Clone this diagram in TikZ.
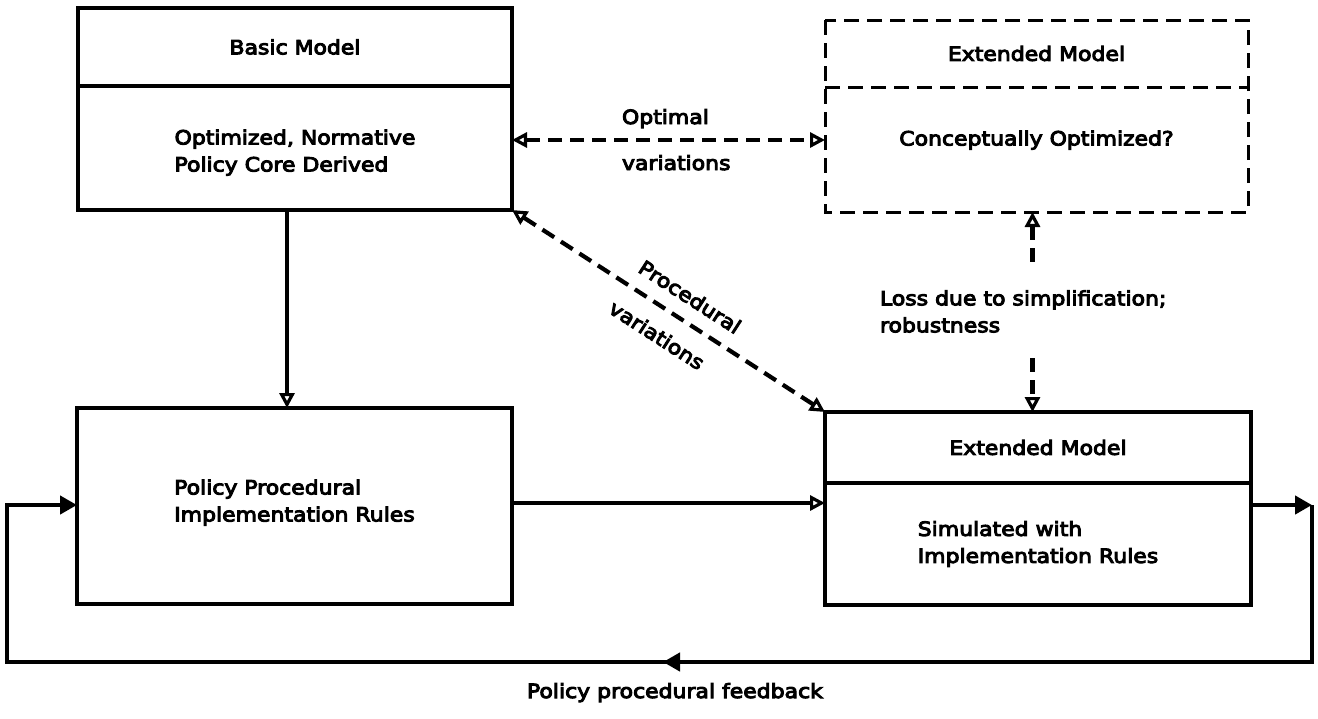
\documentclass[tikz,border=0pt]{standalone}
\usepackage{fontspec}
\setmainfont{DejaVu Sans}[FakeStretch=1.12, FakeBold=5]
\usetikzlibrary{arrows.meta,decorations.markings,calc}
\begin{document}
\begin{tikzpicture}[x=1pt,y=-1pt,
  every node/.style={font=\fontsize{19.6}{27}\selectfont, inner sep=0pt, outer sep=0pt},
  box/.style={draw, line width=3.2pt},
  dline/.style={draw, line width=3pt, dash pattern=on 15pt off 8pt},
  arr/.style={line width=3.2pt, -{Triangle[open, length=15pt, width=15pt, line width=3.2pt]}},
  darr/.style={line width=4.2pt, dash pattern=on 14pt off 8pt,
    {Triangle[open, length=15pt, width=15pt, line width=3.2pt]}-{Triangle[open, length=15pt, width=15pt, line width=3.2pt]}},
  fbline/.style={line width=4.6pt}
]
\useasboundingbox (0,0) rectangle (1318,718);

% top-left: basic model
\node[box, minimum width=434pt, minimum height=78pt] (bmh) at (295,47) {Basic Model};
\node[box, minimum width=434pt, minimum height=124pt, align=left] (bmb) at (295,148) {\rule{0pt}{24pt}Optimized, Normative\\Policy Core Derived};

% top-right: extended model (dashed)
\node[minimum width=423pt, minimum height=67pt] (ech) at (1036.5,53.5) {Extended Model};
\node[minimum width=423pt, minimum height=125pt, text depth=23pt] (ecb) at (1036.5,149.5) {Conceptually Optimized?};
\draw[dline] (ech.north west) rectangle (ecb.south east);
\draw[dline] (ech.south west) -- (ech.south east);

% bottom-left: procedural rules
\node[box, minimum width=435pt, minimum height=196pt, align=left] (ppr) at (294.5,506) {Policy Procedural\\Implementation Rules\rule[-11pt]{0pt}{0pt}};

% bottom-right: extended model simulated
\node[box, minimum width=426pt, minimum height=71pt] (esh) at (1038,447.5) {Extended Model};
\node[box, minimum width=426pt, minimum height=122pt, align=left] (esb) at (1038,544) {Simulated with\\Implementation Rules};

% vertical arrow basic -> rules
\coordinate (v1) at ([xshift=-8pt]bmb.south);
\draw[arr] (v1) -- (v1 |- ppr.north);

% optimal variations
\coordinate (o1) at ([yshift=8pt]bmb.east);
\draw[darr] (o1) -- (o1 -| ecb.west);
\node[anchor=base west] (optl) at (622,124) {Optimal};
\node[anchor=base west] (varl) at (622,170) {variations};

% procedural variations
\draw[darr] (bmb.south east) --
  node[pos=0.528, sloped, above=16pt] (procl) {Procedural}
  node[pos=0.509, sloped, below=19pt] (pvarl) {variations}
  (esh.north west);

% loss due to simplification
\coordinate (l1) at ([xshift=-4pt]ecb.south);
\draw[darr] (l1) -- (l1 |- esh.north);
\node[anchor=north west, fill=white, inner xsep=0pt, inner ysep=22pt, align=left] (lossl) at (880,268.4) {Loss due to simplification;\\robustness};

% rules -> simulated
\coordinate (r1) at ([yshift=3pt]ppr.east);
\draw[arr] (r1) -- (r1 -| esb.west);

% feedback loop
\coordinate (fr) at (1312,505);
\coordinate (fbr) at (1312,662);
\coordinate (fbll) at (7,662);
\coordinate (fl) at (7,505);
\draw[fbline, -{Triangle[length=17pt, width=18pt]}] (esb.east |- fr) -- (fr);
\draw[fbline, -{Triangle[length=17pt, width=18pt]},
  postaction={decorate}, decoration={markings, mark=at position 806pt with {\arrow{Triangle[length=17pt, width=18pt]}}}]
  (fr) -- (fbr) -- (fbll) -- (fl) -- (fl -| ppr.west);
\node[anchor=base west] (fbt) at (527,698) {Policy procedural feedback};

\end{tikzpicture}
\end{document}
